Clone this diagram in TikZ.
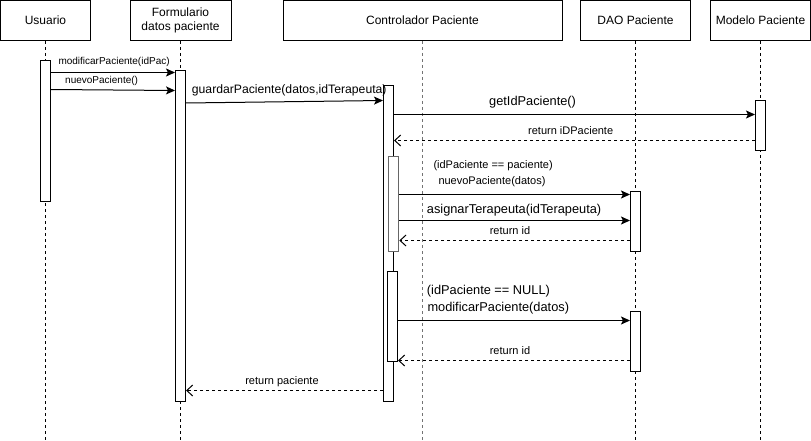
\documentclass[tikz,border=0pt]{standalone}
\usepackage{fontspec}
\setmainfont{Liberation Sans}
\usetikzlibrary{arrows.meta}
\begin{document}
\begin{tikzpicture}[x=1pt,y=-1pt,
  head/.style={draw, line width=1pt, fill=white, inner sep=0pt, align=center,
    font=\fontsize{12}{14}\selectfont},
  actbar/.style={draw, line width=1pt, fill=white, minimum width=10pt, inner sep=0pt, anchor=north},
  life/.style={line width=1pt, dash pattern=on 3pt off 3pt},
  msg/.style={line width=1pt, -{Stealth[length=9pt,width=8pt,inset=2pt]}},
  ret/.style={line width=1pt, dash pattern=on 3pt off 3pt, -{Straight Barb[length=6pt,width=11pt]}},
  lblS/.style={inner sep=0pt, font=\fontsize{10}{12}\selectfont},
  lblM/.style={inner sep=0pt, font=\fontsize{11}{13}\selectfont},
  lblL/.style={inner sep=0pt, font=\fontsize{12.8}{14}\selectfont}
]
\useasboundingbox (0,0) rectangle (811,441);
\fill[white] (0,0) rectangle (811,441);

% headers
\node[head, minimum width=90pt, minimum height=40pt] (hU) at (45.5,20.5) {Usuario};
\node[head, minimum width=101pt, minimum height=40pt] (hF) at (180.5,20.5) {Formulario\\datos paciente};
\node[head, minimum width=279pt, minimum height=40pt] (hC) at (422.5,20.5) {Controlador Paciente};
\node[head, minimum width=110pt, minimum height=40pt] (hD) at (635.5,20.5) {DAO Paciente};
\node[head, minimum width=100pt, minimum height=40pt] (hM) at (760.5,20.5) {Modelo Paciente};

% lifeline ends
\coordinate (eU) at (45.5,441);
\coordinate (eF) at (180.5,441);
\coordinate (eC) at (422.5,441);
\coordinate (eD) at (635.5,441);
\coordinate (eM) at (760.5,441);

\draw[life] (hU.south) -- (eU);
\draw[life] (hF.south) -- (eF);
\draw[life, black!55] (hC.south) -- (eC);
\draw[life] (hD.south) -- (eD);
\draw[life] (hM.south) -- (eM);

% activation bars
\node[actbar, minimum height=140pt] (bU) at (45.5,60.5) {};
\node[actbar, minimum height=330pt] (bF) at (180.5,70.5) {};
\node[actbar, minimum height=315pt] (bC) at (388.5,85.5) {};
\node[actbar, minimum height=95pt, draw=black!60, line width=1.6pt] (bC1) at (393.5,155.5) {};
\node[actbar, minimum height=90pt] (bC2) at (392.5,270.5) {};
\node[actbar, minimum height=50pt] (bM) at (760.5,100.5) {};
\node[actbar, minimum height=60pt] (bD1) at (635.5,190.5) {};
\node[actbar, minimum height=60pt] (bD2) at (635.5,310.5) {};

% message levels
\coordinate (y1) at (0,72.5);
\coordinate (y2a) at (0,89.5);
\coordinate (y2b) at (0,90.5);
\coordinate (y3a) at (0,103);
\coordinate (y3b) at (0,100.5);
\coordinate (y4) at (0,114.5);
\coordinate (y5) at (0,140.5);
\coordinate (y6) at (0,194.5);
\coordinate (y7) at (0,220.5);
\coordinate (y8) at (0,240.5);
\coordinate (y9) at (0,320.5);
\coordinate (y10) at (0,360.5);
\coordinate (y11) at (0,390.5);

% messages
\draw[msg] (bU.east|-y1) -- (bF.west|-y1);
\draw[msg] (bU.east|-y2a) -- (bF.west|-y2b);
\draw[msg] (bF.east|-y3a) -- (bC.west|-y3b);
\draw[msg] (bC.east|-y4) -- (bM.west|-y4);
\draw[ret] (bM.west|-y5) -- (bC.east|-y5);
\draw[msg] (bC1.east|-y6) -- (bD1.west|-y6);
\draw[msg] (bC1.east|-y7) -- (bD1.west|-y7);
\draw[ret] (bD1.west|-y8) -- (bC1.east|-y8);
\draw[msg] (bC2.east|-y9) -- (bD2.west|-y9);
\draw[ret] (bD2.west|-y10) -- (bC2.east|-y10);
\draw[ret] (bC.west|-y11) -- (bF.east|-y11);

% labels
\node[lblS, anchor=west] (t1) at (58.3,61.5) {modificarPaciente(idPac)};
\node[lblS, anchor=west] (t2) at (65,81) {nuevoPaciente()};
\node[lblL, anchor=west, font=\fontsize{12.2}{14}\selectfont] (t3) at (191.7,90.5) {guardarPaciente(datos,idTerapeuta)};
\node[lblL, anchor=west] (t4) at (489,102) {getIdPaciente()};
\node[lblM, anchor=west] (t5) at (528,131) {return iDPaciente};
\node[lblM, anchor=west] (t6) at (433.3,165.5) {(idPaciente == paciente)};
\node[lblM, anchor=west] (t7) at (438.3,181.5) {nuevoPaciente(datos)};
\node[lblL, anchor=west] (t8) at (426.7,210.5) {asignarTerapeuta(idTerapeuta)};
\node[lblM] (t9) at (510,231) {return id};
\node[lblL, anchor=west] (t10) at (426.7,291.5) {(idPaciente == NULL)};
\node[lblL, anchor=west] (t11) at (427.3,308.5) {modificarPaciente(datos)};
\node[lblM] (t12) at (510,351) {return id};
\node[lblM] (t13) at (282,381.5) {return paciente};
\end{tikzpicture}
\end{document}
